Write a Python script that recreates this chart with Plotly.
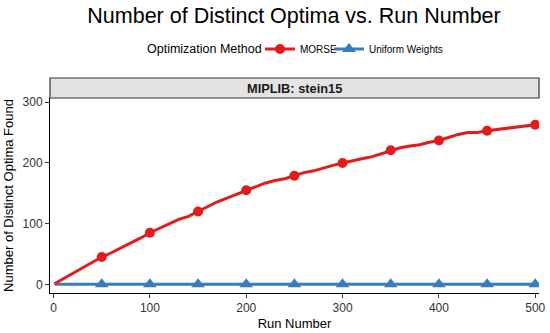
import plotly.graph_objects as go

runs = [1, 10, 20, 30, 40, 50, 60, 70, 80, 90, 100, 110, 120, 130, 140, 150, 160, 170, 180, 190,
        200, 210, 220, 230, 240, 250, 260, 270, 280, 290, 300, 310, 320, 330, 340, 350, 360, 370,
        380, 390, 400, 410, 420, 430, 440, 450, 460, 470, 480, 490, 500]
morse = [1, 9, 18, 28, 37, 45, 52, 60, 67, 76, 85, 92, 99, 107, 112, 120, 128, 136, 142, 148,
         155, 161, 167, 171, 174, 179, 184, 187, 192, 196, 200, 204, 207, 210, 215, 221, 225, 228,
         230, 234, 237, 242, 247, 250, 250, 253, 255, 256, 258, 261, 263]
uniform = [0] * len(runs)

x_ticks = [0, 100, 200, 300, 400, 500]
y_ticks = [0, 100, 200, 300]

RED = "#E41A1C"
BLUE = "#377EB8"

mx = [r for r in runs if r % 50 == 0]
my_morse = [v for r, v in zip(runs, morse) if r % 50 == 0]
my_unif = [v for r, v in zip(runs, uniform) if r % 50 == 0]

fig = go.Figure()
fig.add_trace(go.Scatter(x=runs, y=uniform, mode="lines", line=dict(color=BLUE, width=3),
                         showlegend=False, hoverinfo="skip"))
fig.add_trace(go.Scatter(x=mx, y=my_unif, mode="markers",
                         marker=dict(color=BLUE, size=12, symbol="triangle-up"),
                         showlegend=False))
fig.add_trace(go.Scatter(x=runs, y=morse, mode="lines", line=dict(color=RED, width=3),
                         showlegend=False, hoverinfo="skip"))
fig.add_trace(go.Scatter(x=mx, y=my_morse, mode="markers",
                         marker=dict(color=RED, size=10, symbol="circle"),
                         showlegend=False))
# legend entries
fig.add_trace(go.Scatter(x=[None], y=[None], mode="lines+markers", name="MORSE", legend="legend",
                         line=dict(color=RED, width=3), marker=dict(color=RED, size=10)))
fig.add_trace(go.Scatter(x=[None], y=[None], mode="lines+markers", name="Uniform Weights",
                         legend="legend2", line=dict(color=BLUE, width=3),
                         marker=dict(color=BLUE, size=12, symbol="triangle-up")))

FONT = "Liberation Sans, Arial, sans-serif"
ML, MR, MT, MB = 50, 11, 98, 40
PW, PH = 550 - ML - MR, 333 - MT - MB
LEG_PX_Y = 49

common_leg = dict(orientation="h", font=dict(size=10), xref="container", xanchor="left",
                  yref="container", y=1 - LEG_PX_Y / 333, yanchor="middle", itemwidth=30,
                  bgcolor="rgba(0,0,0,0)")

fig.update_layout(
    width=550, height=333,
    margin=dict(l=ML, r=MR, t=MT, b=MB, autoexpand=False),
    paper_bgcolor="white", plot_bgcolor="white",
    font=dict(family=FONT, color="black"),
    title=dict(text="Number of Distinct Optima vs. Run Number", font=dict(size=21.5, color="black"),
               x=294 / 550, xref="container", xanchor="center",
               y=1 - 15 / 333, yref="container", yanchor="middle"),
    legend=dict(common_leg, x=260 / 550),
    legend2=dict(common_leg, x=329 / 550),
    xaxis=dict(range=[-3.7, 503.9], tickvals=x_ticks, ticks="outside", ticklen=4, tickcolor="#333333",
               showline=True, linecolor="black", linewidth=1, showgrid=False, zeroline=False,
               automargin=False,
               tickfont=dict(size=12, color="#333333"),
               title=dict(text="Run Number", font=dict(size=13), standoff=4)),
    yaxis=dict(range=[-14.3, 307], tickvals=y_ticks, ticks="outside", ticklen=4, tickcolor="#333333",
               showline=True, linecolor="black", linewidth=1, showgrid=False, zeroline=False,
               automargin=False,
               tickfont=dict(size=12, color="#333333"),
               title=dict(text="Number of Distinct Optima Found", font=dict(size=13), standoff=6)),
    shapes=[dict(type="rect", xref="paper", yref="paper", x0=0, x1=1, y0=1.0, y1=1 + 20 / PH,
                 fillcolor="#E3E3E3", line=dict(color="#333333", width=1.2), layer="below")],
    annotations=[
        dict(text="<b>MIPLIB: stein15</b>", xref="paper", yref="paper", x=0.5,
             y=1 + 10 / PH, xanchor="center", yanchor="middle", showarrow=False,
             font=dict(size=12.8, color="#1A1A1A")),
        dict(text="Optimization Method", xref="paper", yref="paper", x=(147 - ML) / PW,
             y=(333 - MB - LEG_PX_Y) / PH, xanchor="left", yanchor="middle", showarrow=False,
             xshift=-2, font=dict(size=12.5, color="black")),
    ],
)

fig.write_html("out.html", config={"displayModeBar": False},
               post_script="document.body.style.margin='0';document.body.style.overflow='hidden';")
